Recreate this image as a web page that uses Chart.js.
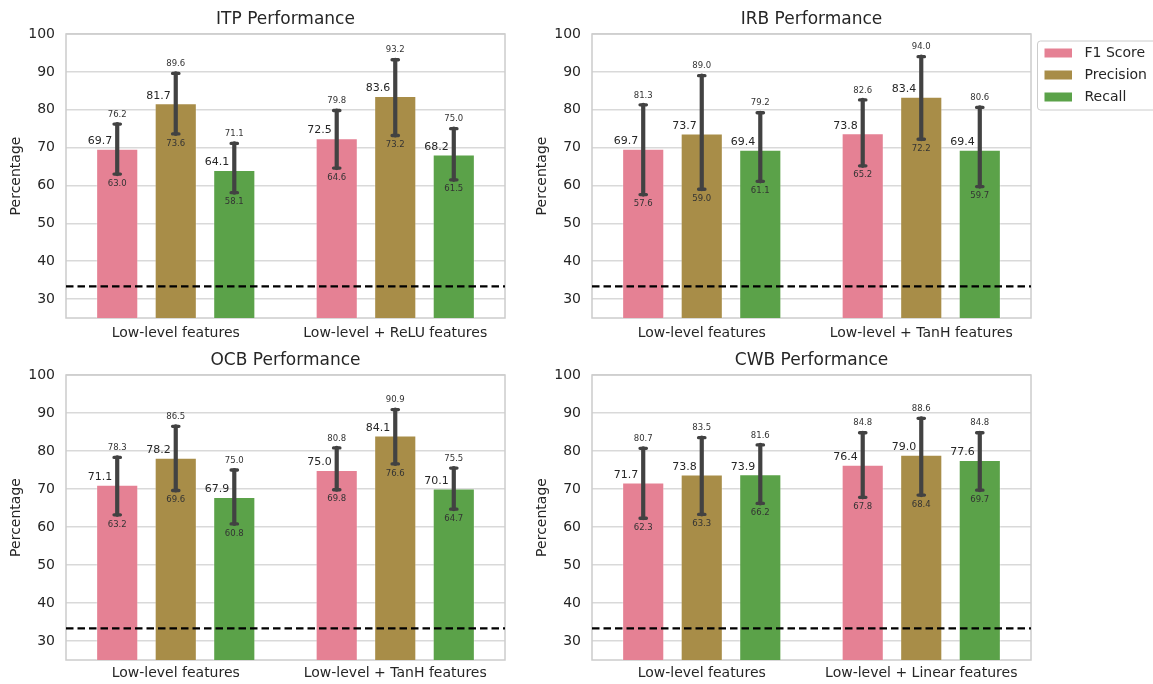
<!DOCTYPE html>
<html lang="en">
<head>
  <meta charset="UTF-8" />
  <title>Performance</title>
  <script src="https://cdn.jsdelivr.net/npm/chart.js"></script>
  <style>
    body {
      margin: 0;
      background: #ffffff;
      width: 1153px;
      height: 684px;
      position: relative;
      overflow: hidden;
    }
    canvas {
      position: absolute;
    }
  </style>
</head>
<body>
  <canvas id="itp" width="526" height="342" style="left:0;top:0"></canvas>
  <canvas id="irb" width="627" height="342" style="left:526px;top:0"></canvas>
  <canvas id="ocb" width="526" height="342" style="left:0;top:342px"></canvas>
  <canvas id="cwb" width="627" height="342" style="left:526px;top:342px"></canvas>

  <script>
    // shared
    const seriesNames = ['F1 Score', 'Precision', 'Recall'];
    const seriesColors = ['rgb(229,129,148)', 'rgb(168,141,72)', 'rgb(91,162,73)'];
    const yTicks = [30, 40, 50, 60, 70, 80, 90, 100];
    const chanceLevel = 33.33;

    // ITP
    const itpCategories = ['Low-level features', 'Low-level + ReLU features'];
    const itpF1 = [69.7, 72.5];
    const itpPrecision = [81.7, 83.6];
    const itpRecall = [64.1, 68.2];
    const itpLow = [[63.0, 64.6], [73.6, 73.2], [58.1, 61.5]];
    const itpHigh = [[76.2, 79.8], [89.6, 93.2], [71.1, 75.0]];

    // IRB
    const irbCategories = ['Low-level features', 'Low-level + TanH features'];
    const irbF1 = [69.7, 73.8];
    const irbPrecision = [73.7, 83.4];
    const irbRecall = [69.4, 69.4];
    const irbLow = [[57.6, 65.2], [59.0, 72.2], [61.1, 59.7]];
    const irbHigh = [[81.3, 82.6], [89.0, 94.0], [79.2, 80.6]];

    // OCB
    const ocbCategories = ['Low-level features', 'Low-level + TanH features'];
    const ocbF1 = [71.1, 75.0];
    const ocbPrecision = [78.2, 84.1];
    const ocbRecall = [67.9, 70.1];
    const ocbLow = [[63.2, 69.8], [69.6, 76.6], [60.8, 64.7]];
    const ocbHigh = [[78.3, 80.8], [86.5, 90.9], [75.0, 75.5]];

    // CWB
    const cwbCategories = ['Low-level features', 'Low-level + Linear features'];
    const cwbF1 = [71.7, 76.4];
    const cwbPrecision = [73.8, 79.0];
    const cwbRecall = [73.9, 77.6];
    const cwbLow = [[62.3, 67.8], [63.3, 68.4], [66.2, 69.7]];
    const cwbHigh = [[80.7, 84.8], [83.5, 88.6], [81.6, 84.8]];

    Chart.defaults.font.family = "'DejaVu Sans', sans-serif";
    Chart.defaults.color = '#262626';

    const TEXT = '#262626';
    const ERR = '#424242';

    // error bars, value labels, chance line and frame
    const extras = {
      id: 'extras',
      beforeDatasetsDraw(chart) {
        const { ctx, chartArea: a } = chart;
        ctx.save();
        ctx.strokeStyle = '#cccccc';
        ctx.lineWidth = 1.5;
        ctx.strokeRect(a.left, a.top, a.right - a.left, a.bottom - a.top);
        ctx.restore();
      },
      afterDatasetsDraw(chart) {
        const { ctx, chartArea: a } = chart;
        const y = chart.scales.y;
        ctx.save();

        const yc = y.getPixelForValue(chanceLevel);
        ctx.strokeStyle = '#000000';
        ctx.lineWidth = 2.2;
        ctx.setLineDash([7.5, 4]);
        ctx.beginPath();
        ctx.moveTo(a.left, yc);
        ctx.lineTo(a.right, yc);
        ctx.stroke();
        ctx.setLineDash([]);

        chart.data.datasets.forEach((ds, i) => {
          const meta = chart.getDatasetMeta(i);
          meta.data.forEach((bar, j) => {
            const x = bar.x;
            const yLo = y.getPixelForValue(ds.lower[j]);
            const yHi = y.getPixelForValue(ds.upper[j]);

            ctx.strokeStyle = ERR;
            ctx.lineCap = 'round';
            ctx.lineWidth = 4.2;
            ctx.beginPath();
            ctx.moveTo(x, yLo);
            ctx.lineTo(x, yHi);
            ctx.stroke();
            ctx.lineWidth = 3.3;
            ctx.beginPath();
            ctx.moveTo(x - 3.2, yLo); ctx.lineTo(x + 3.2, yLo);
            ctx.moveTo(x - 3.2, yHi); ctx.lineTo(x + 3.2, yHi);
            ctx.stroke();

            ctx.fillStyle = TEXT;
            ctx.font = "11px 'DejaVu Sans'";
            ctx.textAlign = 'right';
            ctx.textBaseline = 'middle';
            ctx.fillText(ds.data[j].toFixed(1), x - 5, bar.y - 7.5);

            ctx.fillStyle = '#333333';
            ctx.font = "8.5px 'DejaVu Sans'";
            ctx.textAlign = 'center';
            ctx.fillText(ds.upper[j].toFixed(1), x, yHi - 9.5);
            ctx.fillText(ds.lower[j].toFixed(1), x, yLo + 9.5);
          });
        });
        ctx.restore();
      }
    };

    // legend box drawn to the right of the plot
    const legendBox = {
      id: 'legendBox',
      afterDraw(chart, args, opts) {
        if (!opts.show) return;
        const { ctx, chartArea: a } = chart;
        const x0 = a.right + 6.5;
        const y0 = 41;
        ctx.save();
        ctx.fillStyle = '#ffffff';
        ctx.strokeStyle = '#cccccc';
        ctx.lineWidth = 1;
        ctx.beginPath();
        ctx.roundRect(x0, y0, 200, 69, 3);
        ctx.fill();
        ctx.stroke();
        chart.data.datasets.forEach((ds, i) => {
          const cy = y0 + 12 + i * 22;
          ctx.fillStyle = ds.backgroundColor;
          ctx.fillRect(x0 + 7, cy - 4.5, 27.5, 9);
          ctx.fillStyle = TEXT;
          ctx.font = "14px 'DejaVu Sans'";
          ctx.textAlign = 'left';
          ctx.textBaseline = 'middle';
          ctx.fillText(ds.label, x0 + 47, cy);
        });
        ctx.restore();
      }
    };

    function makeChart(id, title, categories, f1, precision, recall, low, high, rightPad, topPad, xPad, showLegend) {
      const values = [f1, precision, recall];
      const datasets = seriesNames.map((name, i) => ({
        label: name,
        data: values[i],
        lower: low[i],
        upper: high[i],
        backgroundColor: seriesColors[i],
        borderColor: 'rgba(255,255,255,0.3)',
        borderWidth: 1,
        categoryPercentage: 0.8,
        barPercentage: 0.72
      }));

      return new Chart(document.getElementById(id), {
        type: 'bar',
        data: { labels: categories, datasets: datasets },
        plugins: [extras, legendBox],
        options: {
          responsive: false,
          animation: false,
          layout: { padding: { left: 0, right: rightPad, top: 0, bottom: 0 } },
          plugins: {
            legend: { display: false },
            tooltip: { enabled: false },
            legendBox: { show: showLegend },
            title: {
              display: true,
              text: title,
              fullSize: false,
              color: TEXT,
              font: { size: 17, weight: 'normal' },
              padding: { top: topPad - 24.4, bottom: 4 }
            }
          },
          scales: {
            x: {
              grid: { display: false, drawTicks: false },
              border: { display: false },
              ticks: { color: TEXT, font: { size: 14 }, padding: xPad },
              afterFit(scale) { scale.height = 24; }
            },
            y: {
              min: 25,
              max: 100,
              afterBuildTicks(scale) {
                scale.ticks = yTicks.map(v => ({ value: v }));
              },
              grid: { color: '#d9d9d9', lineWidth: 1.5, drawTicks: false },
              border: { display: false },
              ticks: { color: TEXT, font: { size: 14 }, padding: 11 },
              title: {
                display: true,
                text: 'Percentage',
                color: TEXT,
                font: { size: 14 },
                padding: { top: 8, bottom: 0 }
              },
              afterFit(scale) { scale.width = 66; }
            }
          }
        }
      });
    }

    makeChart('itp', 'ITP Performance', itpCategories, itpF1, itpPrecision, itpRecall, itpLow, itpHigh, 21, 34, 7, false);
    makeChart('irb', 'IRB Performance', irbCategories, irbF1, irbPrecision, irbRecall, irbLow, irbHigh, 122, 34, 7, true);
    makeChart('ocb', 'OCB Performance', ocbCategories, ocbF1, ocbPrecision, ocbRecall, ocbLow, ocbHigh, 21, 33, 5, false);
    makeChart('cwb', 'CWB Performance', cwbCategories, cwbF1, cwbPrecision, cwbRecall, cwbLow, cwbHigh, 122, 33, 5, false);
  </script>
</body>
</html>
